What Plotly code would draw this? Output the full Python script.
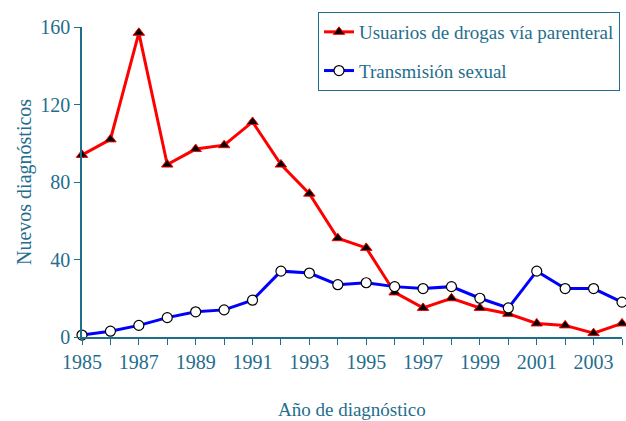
import plotly.graph_objects as go

years = list(range(1985, 2005))
udvp = [94, 102, 157, 89, 97, 99, 111, 89, 74, 51, 46, 23, 15, 20, 15, 12, 7, 6, 2, 7]
sexual = [1, 3, 6, 10, 13, 14, 19, 34, 33, 27, 28, 26, 25, 26, 20, 15, 34, 25, 25, 18]
x_ticks = list(range(1985, 2004, 2))
y_ticks = [0, 40, 80, 120, 160]

TEAL = "#1f6e8c"
FONT = "Liberation Serif"

W, H = 626, 421
ML, MR, MT, MB = 82, 4, 27, 84

fig = go.Figure()

fig.add_trace(go.Scatter(
    x=years, y=udvp, mode="lines+markers",
    name="Usuarios de drogas vía parenteral", legendgroup="udvp",
    line=dict(color="#ff0000", width=3),
    marker=dict(symbol="triangle-up", size=10, color="black",
                line=dict(color="#ff0000", width=1)),
    cliponaxis=False,
))

fig.add_trace(go.Scatter(
    x=years, y=sexual, mode="lines+markers",
    name="Transmisión sexual", legendgroup="sexual",
    line=dict(color="#0000ff", width=3),
    marker=dict(symbol="circle", size=10, color="white",
                line=dict(color="black", width=1.2)),
    cliponaxis=False,
))

pw, ph = W - ML - MR, H - MT - MB

fig.update_layout(
    width=W, height=H,
    margin=dict(l=ML, r=MR, t=MT, b=MB, autoexpand=False),
    plot_bgcolor="white", paper_bgcolor="white",
    font=dict(family=FONT, color=TEAL, size=18),
    showlegend=True,
    legend=dict(
        x=(318 - ML) / pw, y=1 + (MT - 12) / ph, xanchor="left", yanchor="top",
        bordercolor=TEAL, borderwidth=1, bgcolor="white",
        font=dict(family=FONT, size=19, color=TEAL), tracegroupgap=11,
    ),
    xaxis=dict(
        range=[1985, 2004], tickvals=x_ticks, ticktext=[str(v) for v in x_ticks],
        showgrid=False, zeroline=False, showline=True, linecolor=TEAL, linewidth=1.5,
        ticks="outside", ticklen=6, tickcolor=TEAL, automargin=False,
        minor=dict(dtick=1, tick0=1985, ticks="outside", ticklen=6, tickcolor=TEAL, showgrid=False),
        tickfont=dict(family=FONT, size=20),
    ),
    yaxis=dict(
        range=[0, 160], tickvals=y_ticks,
        showgrid=False, zeroline=False, showline=True, linecolor=TEAL, linewidth=1.5,
        ticks="outside", ticklen=6, tickcolor=TEAL, automargin=False,
        tickfont=dict(family=FONT, size=20),
    ),
    annotations=[
        dict(text="Año de diagnóstico", showarrow=False,
             font=dict(family=FONT, size=19, color=TEAL),
             xref="paper", yref="paper", xanchor="center", yanchor="middle",
             x=(352 - ML) / pw, y=-(410 - (H - MB)) / ph),
        dict(text="Nuevos diagnósticos", textangle=-90, showarrow=False,
             font=dict(family=FONT, size=20, color=TEAL), xref="paper", yref="paper",
             xanchor="center", yanchor="middle",
             x=-(ML - 24) / pw, y=((H - MB) - 182) / ph),
    ],
)

# drop the browser's default 8px body margin so the figure fills the window
fig.write_html(
    "out.html",
    config={"displayModeBar": False},
    post_script="document.body.style.margin='0';",
)
